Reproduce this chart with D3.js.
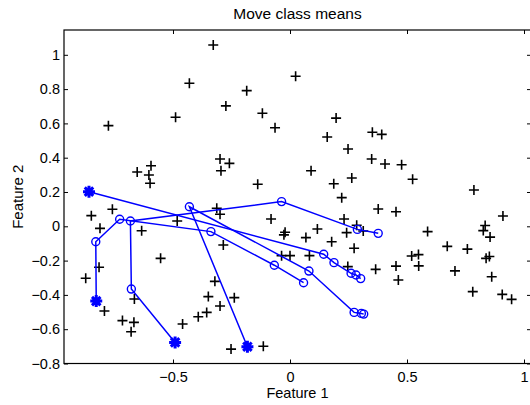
<!DOCTYPE html>
<html lang="en">
<head>
    <meta charset="UTF-8">
    <script src="https://d3js.org/d3.v7.min.js"></script>
    <style>
        body { margin: 0; background: white; }
        text { font-family: "Liberation Sans", Arial, sans-serif; fill: black; }
        .tick text { font-size: 14.5px; }
        .mean-line { fill: none; stroke: #0000ff; stroke-width: 1.5px; }
    </style>
</head>
<body>
    <div id="chart"></div>

    <script>
        // data points (black +)
        const dataX = [
            -0.776, -0.489, -0.430, -0.328, -0.274, -0.185, -0.118, -0.653, -0.594, -0.603,
            -0.598, -0.299, -0.295, -0.259, -0.138, 0.024, -0.064, 0.197, 0.159, 0.352,
            0.392, 0.248, 0.349, 0.406, 0.477, 0.524, 0.090, 0.187, 0.264, 0.786,
            0.221, 0.377, 0.453, -0.081, -0.021, -0.026, 0.068, 0.117, 0.178, 0.231,
            0.242, 0.285, 0.313, 0.274, -0.036, 0.000, 0.083, 0.247, 0.366, 0.453,
            0.463, 0.910, 0.588, 0.672, 0.758, 0.834, 0.826, 0.855, 0.520, 0.549,
            0.550, 0.705, 0.838, 0.852, 0.862, 0.781, 0.907, 0.947, -0.849, -0.759,
            -0.812, -0.482, -0.634, -0.313, -0.299, -0.285, -0.553, -0.816, -0.873, -0.321,
            -0.665, -0.793, -0.716, -0.667, -0.679, -0.459, -0.392, -0.356, -0.349, -0.299,
            -0.238, -0.252, -0.114
        ];
        const dataY = [
            0.587, 0.636, 0.834, 1.057, 0.702, 0.791, 0.659, 0.317, 0.353, 0.299,
            0.251, 0.392, 0.324, 0.367, 0.245, 0.875, 0.575, 0.631, 0.521, 0.548,
            0.536, 0.451, 0.392, 0.363, 0.359, 0.274, 0.324, 0.248, 0.282, 0.212,
            0.167, 0.101, 0.085, 0.043, -0.035, -0.050, -0.066, -0.016, -0.090, 0.043,
            -0.037, 0.006, -0.027, -0.128, -0.171, -0.171, -0.171, -0.235, -0.251, -0.232,
            -0.313, 0.060, -0.031, -0.117, -0.133, 0.005, -0.025, -0.063, -0.173, -0.165,
            -0.231, -0.260, -0.187, -0.176, -0.294, -0.381, -0.397, -0.426, 0.062, 0.099,
            -0.012, 0.031, -0.026, 0.105, 0.070, -0.109, -0.187, -0.239, -0.303, -0.321,
            -0.424, -0.494, -0.550, -0.560, -0.615, -0.570, -0.527, -0.502, -0.410, -0.465,
            -0.416, -0.716, -0.699
        ];

        // class mean paths: first point is the start (*), the rest are the moves (o)
        const pathA = [[-0.859, 0.202], [0.144, -0.163], [0.188, -0.212], [0.261, -0.274], [0.282, -0.284], [0.302, -0.305]];
        const pathB = [[-0.828, -0.436], [-0.830, -0.090], [-0.728, 0.041], [-0.338, -0.031], [-0.067, -0.227], [0.058, -0.329]];
        const pathC = [[-0.491, -0.677], [-0.678, -0.366], [-0.682, 0.031], [-0.036, 0.144], [0.288, -0.018], [0.377, -0.041]];
        const pathD = [[-0.182, -0.702], [-0.430, 0.114], [0.081, -0.261], [0.274, -0.502], [0.305, -0.508], [0.315, -0.512]];
        const paths = [pathA, pathB, pathC, pathD];

        const xTicks = [-0.5, 0, 0.5, 1];
        const yTicks = [-0.8, -0.6, -0.4, -0.2, 0, 0.2, 0.4, 0.6, 0.8, 1];

        const width = 530;
        const height = 405;
        const plotLeft = 64, plotRight = 531, plotTop = 30, plotBottom = 363.5;

        const x = d3.scaleLinear().domain([-0.9658, 1.0299]).range([plotLeft, plotRight]);
        const y = d3.scaleLinear().domain([-0.8, 1.1446]).range([plotBottom, plotTop]);

        const fmt = d => (d < 0 ? "\u2212" : "") + d3.format("~g")(Math.abs(d));

        const svg = d3.select("#chart")
            .append("svg")
            .attr("width", width)
            .attr("height", height);

        // axes with inward ticks
        svg.append("g")
            .attr("transform", `translate(0,${plotBottom})`)
            .call(d3.axisBottom(x).tickValues(xTicks).tickSize(-4).tickPadding(8).tickFormat(fmt))
            .call(g => g.select(".domain").remove());

        svg.append("g")
            .attr("transform", `translate(${plotLeft},0)`)
            .call(d3.axisLeft(y).tickValues(yTicks).tickSize(-4).tickPadding(4).tickFormat(fmt))
            .call(g => g.select(".domain").remove());

        svg.append("g")
            .attr("transform", `translate(0,${plotTop})`)
            .call(d3.axisTop(x).tickValues(xTicks).tickSize(-4).tickFormat(""))
            .call(g => g.select(".domain").remove());

        svg.append("g")
            .attr("transform", `translate(${plotRight},0)`)
            .call(d3.axisRight(y).tickValues(yTicks).tickSize(-4).tickFormat(""))
            .call(g => g.select(".domain").remove());

        svg.selectAll(".tick line").attr("stroke", "black");

        svg.append("rect")
            .attr("x", plotLeft)
            .attr("y", plotTop)
            .attr("width", plotRight - plotLeft)
            .attr("height", plotBottom - plotTop)
            .attr("fill", "none")
            .attr("stroke", "black")
            .attr("stroke-width", 1.2);

        // black + points
        const plus = svg.append("g")
            .attr("stroke", "black")
            .attr("stroke-width", 1.6);

        dataX.forEach((dx, i) => {
            const px = x(dx), py = y(dataY[i]);
            plus.append("path")
                .attr("d", `M${px - 5},${py}H${px + 5}M${px},${py - 5}V${py + 5}`);
        });

        // mean paths
        const line = d3.line().x(d => x(d[0])).y(d => y(d[1]));

        paths.forEach(p => {
            svg.append("path")
                .attr("class", "mean-line")
                .attr("d", line(p));

            svg.selectAll(null)
                .data(p.slice(1))
                .enter().append("circle")
                .attr("cx", d => x(d[0]))
                .attr("cy", d => y(d[1]))
                .attr("r", 4)
                .attr("fill", "none")
                .attr("stroke", "#0000ff")
                .attr("stroke-width", 1.4);

            const sx = x(p[0][0]), sy = y(p[0][1]), r = 6;
            const k = r * Math.SQRT1_2;
            svg.append("path")
                .attr("d", `M${sx - r},${sy}H${sx + r}M${sx},${sy - r}V${sy + r}` +
                    `M${sx - k},${sy - k}L${sx + k},${sy + k}M${sx - k},${sy + k}L${sx + k},${sy - k}`)
                .attr("stroke", "#0000ff")
                .attr("stroke-width", 3)
                .attr("fill", "none");
        });

        // titles
        svg.append("text")
            .attr("x", (plotLeft + plotRight) / 2)
            .attr("y", 19)
            .attr("text-anchor", "middle")
            .style("font-size", "15.5px")
            .text("Move class means");

        svg.append("text")
            .attr("x", (plotLeft + plotRight) / 2)
            .attr("y", 397.5)
            .attr("text-anchor", "middle")
            .style("font-size", "14.5px")
            .text("Feature 1");

        svg.append("text")
            .attr("transform", `translate(23,${(plotTop + plotBottom) / 2}) rotate(-90)`)
            .attr("text-anchor", "middle")
            .style("font-size", "15px")
            .text("Feature 2");
    </script>
</body>
</html>
